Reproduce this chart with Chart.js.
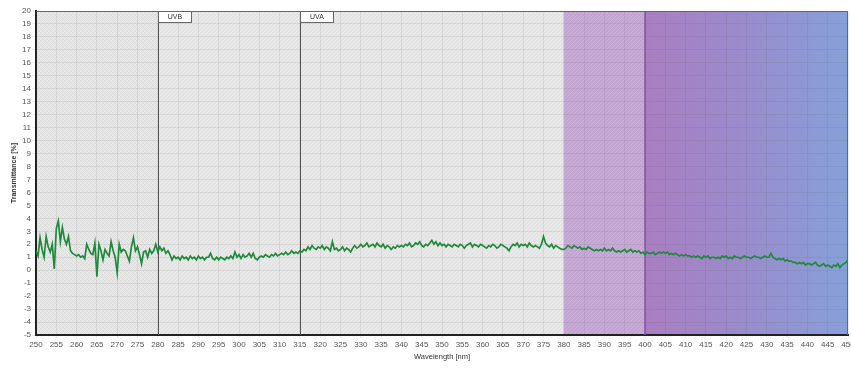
<!DOCTYPE html>
<html>
<head>
<meta charset="utf-8">
<script src="https://cdn.jsdelivr.net/npm/chart.js@4"></script>
<style>
html, body { margin: 0; padding: 0; background: #fff; }
</style>
</head>
<body>
<canvas id="specChart" width="851" height="368"></canvas>
<script>
// spectrum sampled every 0.5 nm from 250 nm
const startNm = 250;
const stepNm = 0.5;
const transmittance = [
  1.5,1.1,2.5,1.6,1.0,2.6,1.8,1.4,2.0,0.1,   // 250
  3.2,3.8,2.2,3.3,2.4,2.0,2.6,1.5,1.3,1.2,   // 255
  1.1,1.2,1.0,1.1,0.9,2.0,1.6,1.3,1.2,2.1,   // 260
  -0.5,2.0,1.5,0.8,1.6,1.3,1.1,2.2,1.5,1.0,  // 265
  -0.2,2.0,1.4,1.6,1.5,1.1,0.7,1.8,2.5,1.5,  // 270
  1.8,1.2,0.5,1.4,1.5,1.0,1.6,1.3,1.5,2.0,   // 275
  1.4,1.8,1.5,1.7,1.3,1.5,1.2,0.8,1.1,0.9,   // 280
  1.0,0.8,1.1,0.9,1.0,0.8,1.1,0.9,1.0,0.8,   // 285
  1.1,0.9,1.0,0.8,1.0,1.0,1.3,0.9,0.8,1.0,   // 290
  0.8,1.0,0.9,0.8,1.0,0.9,1.1,0.9,1.4,1.0,   // 295
  1.2,0.9,1.2,1.0,1.1,1.3,1.0,1.3,0.9,0.8,   // 300
  1.0,1.1,1.0,1.2,1.1,1.0,1.2,1.1,1.3,1.1,   // 305
  1.2,1.3,1.2,1.4,1.2,1.3,1.5,1.3,1.4,1.3,   // 310
  1.5,1.4,1.6,1.5,1.8,1.6,1.9,1.7,1.6,1.8,   // 315
  1.7,1.9,1.6,1.8,1.7,1.5,2.2,1.6,1.7,1.5,   // 320
  1.6,1.8,1.5,1.7,1.6,1.4,1.7,1.9,1.7,1.8,   // 325
  2.0,1.8,1.9,2.1,1.8,1.9,2.0,1.8,2.1,1.9,   // 330
  1.8,2.0,1.7,1.9,1.8,1.6,1.8,1.7,1.9,1.8,   // 335
  1.9,1.8,2.0,1.9,2.1,1.8,1.9,2.1,2.0,2.2,   // 340
  1.9,1.8,2.0,1.9,2.1,2.3,2.0,2.2,1.9,2.1,   // 345
  1.9,2.0,1.8,2.0,1.9,1.8,2.0,1.9,1.8,2.0,   // 350
  1.9,1.7,1.9,2.0,2.1,1.8,2.0,1.9,1.8,2.0,   // 355
  1.9,1.8,1.7,1.9,1.8,2.0,1.9,1.7,1.8,2.0,   // 360
  1.9,1.8,1.7,1.5,1.8,2.0,1.9,2.1,1.8,2.0,   // 365
  1.9,2.0,1.8,2.1,1.9,1.8,1.9,1.8,1.7,2.0,   // 370
  2.6,2.1,1.9,1.8,2.0,1.7,1.9,1.8,1.7,1.6,   // 375
  1.6,1.7,1.9,1.8,1.7,1.9,1.8,1.7,1.8,1.6,   // 380
  1.7,1.6,1.8,1.7,1.6,1.5,1.6,1.5,1.6,1.5,   // 385
  1.7,1.5,1.6,1.5,1.7,1.5,1.4,1.5,1.4,1.5,   // 390
  1.6,1.4,1.5,1.6,1.4,1.5,1.4,1.5,1.3,1.4,   // 395
  1.2,1.4,1.3,1.3,1.4,1.2,1.3,1.4,1.3,1.4,   // 400
  1.3,1.4,1.2,1.3,1.2,1.3,1.2,1.1,1.2,1.1,   // 405
  1.2,1.1,1.1,1.0,1.1,1.0,1.1,1.0,0.9,1.1,   // 410
  1.0,1.1,0.9,1.0,1.0,0.9,1.0,0.9,1.1,1.0,   // 415
  1.1,0.9,1.0,0.9,1.1,1.0,1.0,0.9,1.0,1.1,   // 420
  1.0,1.0,0.9,1.0,1.1,1.0,1.0,0.9,1.0,1.1,   // 425
  1.0,1.0,1.3,1.0,0.9,0.8,0.9,0.8,0.9,0.7,   // 430
  0.8,0.7,0.7,0.6,0.6,0.5,0.6,0.5,0.6,0.4,   // 435
  0.5,0.5,0.4,0.5,0.6,0.4,0.3,0.4,0.5,0.3,   // 440
  0.4,0.3,0.2,0.4,0.3,0.5,0.2,0.4,0.5,0.6,   // 445
  0.8                                         // 450
];
const wavelengths = transmittance.map((v, i) => startNm + i * stepNm);

// band markers
const bandEdges = [280, 315];
const bandLabels = ['UVB', 'UVA'];
// background zones: [from, to]
const greyZone = [250, 380];
const violetZone = [380, 400];
const visibleZone = [400, 450];

const font = 'Liberation Sans';

function hatch(ctx, cross, alpha) {
  const c = document.createElement('canvas');
  c.width = c.height = 4;
  const g = c.getContext('2d');
  g.strokeStyle = 'rgba(255,255,255,' + alpha + ')';
  g.lineWidth = 1;
  g.beginPath(); g.moveTo(0, 4); g.lineTo(4, 0); g.stroke();
  if (cross) {
    g.strokeStyle = 'rgba(160,160,160,0.1)';
    g.beginPath(); g.moveTo(0, 0); g.lineTo(4, 4); g.stroke();
  }
  return ctx.createPattern(c, 'repeat');
}

const backdrop = {
  id: 'backdrop',
  beforeDraw(chart) {
    const { ctx, chartArea: a, scales: { x } } = chart;
    const px = v => x.getPixelForValue(v);
    ctx.save();
    ctx.fillStyle = '#e4e4e4';
    ctx.fillRect(px(greyZone[0]), a.top, px(greyZone[1]) - px(greyZone[0]), a.height);
    ctx.fillStyle = hatch(ctx, true, 0.3);
    ctx.fillRect(px(greyZone[0]), a.top, px(bandEdges[0]) - px(greyZone[0]), a.height);
    ctx.fillStyle = hatch(ctx, false, 0.3);
    ctx.fillRect(px(bandEdges[0]), a.top, px(greyZone[1]) - px(bandEdges[0]), a.height);

    ctx.fillStyle = '#c3a5d2';
    ctx.fillRect(px(violetZone[0]), a.top, px(violetZone[1]) - px(violetZone[0]), a.height);
    ctx.fillStyle = hatch(ctx, false, 0.15);
    ctx.fillRect(px(violetZone[0]), a.top, px(violetZone[1]) - px(violetZone[0]), a.height);

    const grad = ctx.createLinearGradient(px(visibleZone[0]), 0, px(visibleZone[1]), 0);
    grad.addColorStop(0, '#a97ec1');
    grad.addColorStop(0.5, '#9a8ccc');
    grad.addColorStop(1, '#86a0d9');
    ctx.fillStyle = grad;
    ctx.fillRect(px(visibleZone[0]), a.top, px(visibleZone[1]) - px(visibleZone[0]), a.height);
    ctx.restore();
  },
  beforeDatasetsDraw(chart) {
    const { ctx, chartArea: a, scales: { x } } = chart;
    ctx.save();
    // violet edge at 400
    ctx.strokeStyle = '#7d5a9c';
    ctx.lineWidth = 1.5;
    ctx.beginPath();
    ctx.moveTo(x.getPixelForValue(visibleZone[0]), a.top);
    ctx.lineTo(x.getPixelForValue(visibleZone[0]), a.bottom);
    ctx.stroke();

    ctx.font = '7px "' + font + '"';
    ctx.textAlign = 'center';
    ctx.textBaseline = 'middle';
    bandEdges.forEach((nm, i) => {
      const xp = Math.round(x.getPixelForValue(nm)) + 0.5;
      ctx.strokeStyle = '#555';
      ctx.lineWidth = 1;
      ctx.beginPath();
      ctx.moveTo(xp, a.top);
      ctx.lineTo(xp, a.bottom);
      ctx.stroke();
      ctx.fillStyle = '#fff';
      ctx.fillRect(xp, a.top, 33, 11);
      ctx.strokeStyle = '#666';
      ctx.strokeRect(xp, a.top + 0.5, 33, 11);
      ctx.fillStyle = '#333';
      ctx.fillText(bandLabels[i], xp + 16.5, a.top + 6);
    });
    ctx.restore();
  },
  afterDraw(chart) {
    const { ctx, chartArea: a } = chart;
    ctx.save();
    ctx.strokeStyle = '#666';
    ctx.lineWidth = 1;
    ctx.beginPath();
    ctx.moveTo(a.left, a.top + 0.5);
    ctx.lineTo(a.right - 0.5, a.top + 0.5);
    ctx.lineTo(a.right - 0.5, a.bottom);
    ctx.stroke();
    ctx.restore();
  }
};

new Chart(document.getElementById('specChart'), {
  type: 'line',
  data: {
    datasets: [{
      label: 'Transmittance',
      data: wavelengths.map((nm, i) => ({ x: nm, y: transmittance[i] })),
      borderColor: '#1f8a3b',
      borderWidth: 1.7,
      pointRadius: 0,
      tension: 0
    }]
  },
  options: {
    responsive: false,
    animation: false,
    layout: { autoPadding: false, padding: { top: 11, right: 3, left: 0, bottom: 0 } },
    plugins: { legend: { display: false }, tooltip: { enabled: false } },
    scales: {
      x: {
        type: 'linear',
        min: 250,
        max: 450,
        afterFit(s) { s.height = 33; s.paddingLeft = 0; s.paddingRight = 0; },
        ticks: { stepSize: 5, autoSkip: false, maxRotation: 0, padding: 2, color: '#555', font: { family: font, size: 8 } },
        grid: { color: 'rgba(80,80,80,0.1)', tickLength: 3 },
        border: { color: '#222', width: 2 },
        title: { display: true, text: 'Wavelength [nm]', color: '#333', font: { family: font, size: 7.5 }, padding: { top: 0, bottom: 7 } }
      },
      y: {
        min: -5,
        max: 20,
        afterFit(s) { s.width = 36; s.paddingTop = 0; s.paddingBottom = 0; },
        ticks: { stepSize: 1, padding: 1, color: '#555', font: { family: font, size: 8 } },
        grid: { color: 'rgba(80,80,80,0.1)', tickLength: 4 },
        border: { color: '#222', width: 2 },
        title: { display: true, text: 'Transmittance [%]', color: '#333', font: { family: font, size: 7, weight: 'bold' }, padding: { top: 10, bottom: 0 } }
      }
    }
  },
  plugins: [backdrop]
});
</script>
</body>
</html>
